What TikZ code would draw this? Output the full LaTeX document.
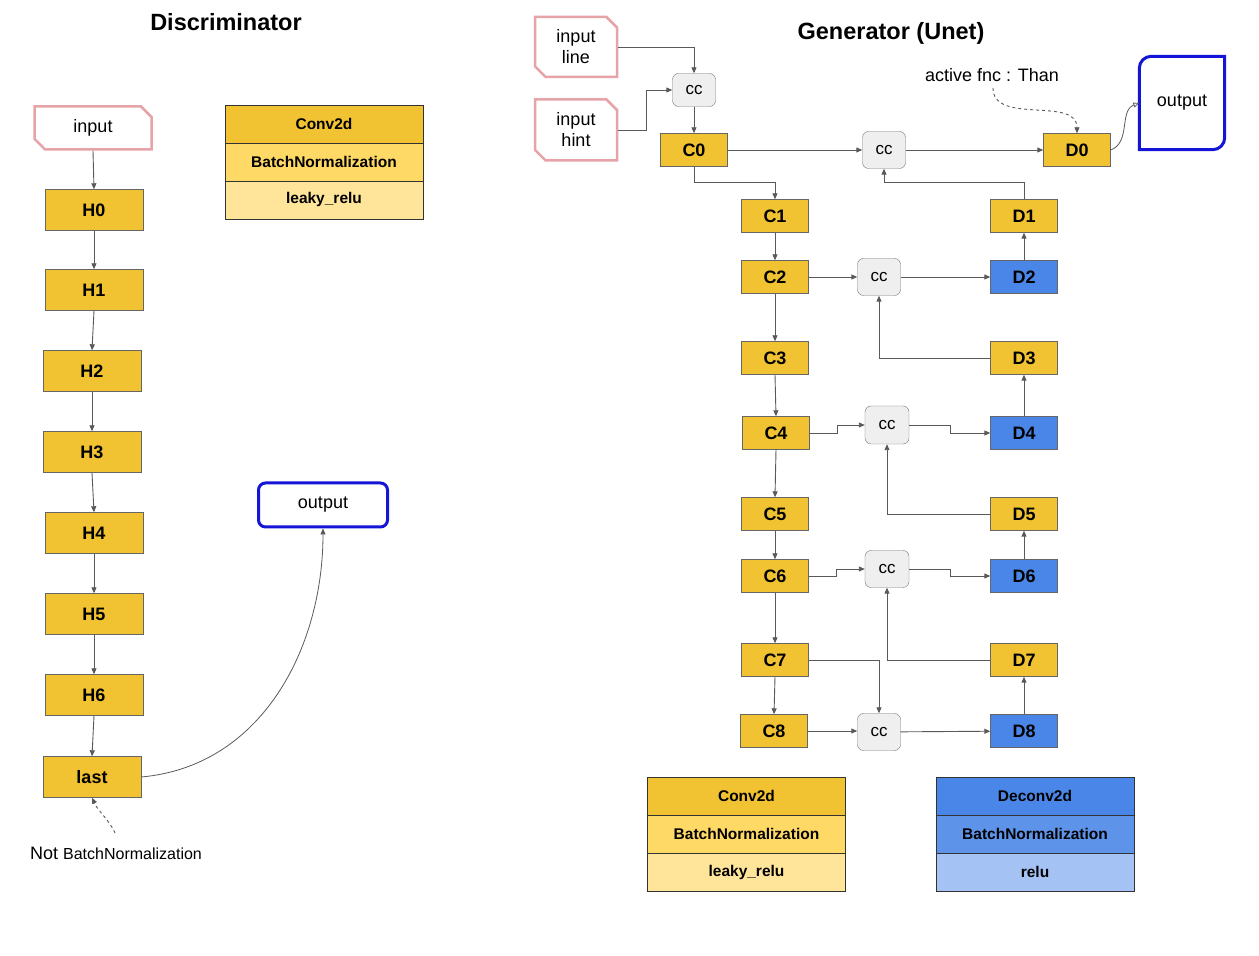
\documentclass[tikz,border=0pt]{standalone}
\usepackage{fontspec}
\setmainfont{Liberation Sans}
\usetikzlibrary{arrows.meta,shapes.misc}
\definecolor{ylw}{HTML}{F1C232}
\definecolor{ylwb}{HTML}{FFD966}
\definecolor{ylwc}{HTML}{FFE599}
\definecolor{blu}{HTML}{4A86E8}
\definecolor{blub}{HTML}{5E93EA}
\definecolor{bluc}{HTML}{A4C2F4}
\definecolor{pnk}{HTML}{E6A3A8}
\definecolor{outblu}{HTML}{1515D8}
\definecolor{ccgray}{HTML}{EFEFEF}
\definecolor{ln}{HTML}{595959}
\begin{document}
\begin{tikzpicture}[x=1pt,y=1pt]
\tikzstyle{every node}+=[inner sep=0pt]
\tikzstyle{conv}=[draw=black!60, fill=ylw, minimum width=67pt, minimum height=33pt, font=\fontsize{18}{20}\selectfont\bfseries]
\tikzstyle{deconv}=[conv, fill=blu]
\tikzstyle{layer}=[conv, minimum width=98pt, minimum height=41pt]
\tikzstyle{cc}=[draw=black!55, fill=ccgray, rounded corners=6pt, minimum width=43pt, minimum height=37pt, font=\fontsize{17}{20}\selectfont]
\tikzstyle{inbox}=[draw=pnk, line width=2.5pt, chamfered rectangle, chamfered rectangle corners={north east,south west}, chamfered rectangle xsep=7pt, minimum width=80pt, font=\fontsize{18}{21}\selectfont, align=center]
\tikzstyle{outbox}=[draw=outblu, line width=3pt]
\tikzstyle{cell}=[draw=black!80, minimum width=198pt, minimum height=38pt, font=\fontsize{15.5}{18}\selectfont\bfseries]
\tikzstyle{link}=[draw=ln, line width=0.9pt, -{Triangle[length=6pt,width=5pt]}]
\tikzstyle{note}=[link, dashed]
\tikzstyle{title}=[font=\fontsize{23.5}{26}\selectfont\bfseries]
\useasboundingbox (0,0) rectangle (1259,956);
\node[title] (dtitle) at (226,934) {Discriminator};
\node[inbox, minimum width=117pt, minimum height=43pt] (inp) at (93,828) {input};
\node[layer] (h0) at (94,746) {H0};
\node[layer] (h1) at (94,666) {H1};
\node[layer] (h2) at (92,585) {H2};
\node[layer] (h3) at (92,504) {H3};
\node[layer] (h4) at (94,423) {H4};
\node[layer] (h5) at (94,342) {H5};
\node[layer] (h6) at (94,261) {H6};
\node[layer] (last) at (92,179) {last};
\node[cell, fill=ylw] (dleg1) at (324,832) {Conv2d};
\node[cell, fill=ylwb] (dleg2) at (324,794) {BatchNormalization};
\node[cell, fill=ylwc] (dleg3) at (324,756) {leaky\_relu};
\node[outbox, rounded corners=7pt, minimum width=129pt, minimum height=44pt, font=\fontsize{18}{20}\selectfont] (dout) at (323,451) {output};
\node[font=\fontsize{18}{20}\selectfont] (notlbl) at (116,103) {Not {\fontsize{16}{20}\selectfont BatchNormalization}};
\coordinate (nbstart) at (115,123);
\draw[link] (inp.south) -- (h0.north);
\draw[link] (h0.south) -- (h1.north);
\draw[link] (h1.south) -- (h2.north);
\draw[link] (h2.south) -- (h3.north);
\draw[link] (h3.south) -- (h4.north);
\draw[link] (h4.south) -- (h5.north);
\draw[link] (h5.south) -- (h6.north);
\draw[link] (h6.south) -- (last.north);
\draw[link, line width=0.8pt] (last.east) to[out=5,in=-90] (dout.south);
\draw[note] (nbstart) to[out=115,in=-65] (last.south);
\node[title] (gtitle) at (891,923) {Generator (Unet)};
\node[inbox, minimum width=82pt, minimum height=60pt] (line) at (576,909) {input\\line};
\node[inbox, minimum width=82pt, minimum height=61pt] (hint) at (576,826) {input\\hint};
\node[cc, minimum height=33pt] (cct) at (694,866) {cc};
\node[conv] (c0) at (694,806) {C0};
\node[cc] (cc0) at (884,806) {cc};
\node[conv] (d0) at (1077,806) {D0};
\node[conv] (c1) at (775,740) {C1};
\node[conv] (d1) at (1024,740) {D1};
\node[conv] (c2) at (775,679) {C2};
\node[cc] (cc2) at (879,679) {cc};
\node[deconv] (d2) at (1024,679) {D2};
\node[conv] (c3) at (775,598) {C3};
\node[conv] (d3) at (1024,598) {D3};
\node[conv] (c4) at (776,523) {C4};
\node[cc, minimum width=44pt, minimum height=38pt] (cc4) at (887,531) {cc};
\node[deconv] (d4) at (1024,523) {D4};
\node[conv] (c5) at (775,442) {C5};
\node[conv] (d5) at (1024,442) {D5};
\node[conv] (c6) at (775,380) {C6};
\node[cc, minimum width=44pt] (cc6) at (887,387) {cc};
\node[deconv] (d6) at (1024,380) {D6};
\node[conv] (c7) at (775,296) {C7};
\node[conv] (d7) at (1024,296) {D7};
\node[conv] (c8) at (774,225) {C8};
\node[cc] (cc8) at (879,224) {cc};
\node[deconv] (d8) at (1024,225) {D8};
\node[minimum width=85pt, minimum height=93pt, font=\fontsize{18}{20}\selectfont] (gout) at (1182,853) {output};
\draw[outbox] (gout.north east) -- ([xshift=12pt]gout.north west) arc[start angle=90,end angle=180,radius=12pt] -- (gout.south west) -- ([xshift=-12pt]gout.south east) arc[start angle=270,end angle=360,radius=12pt] -- cycle;
\node[font=\fontsize{18}{20}\selectfont] (afnc) at (992,881) {active fnc : Than};
\coordinate (afstart) at (993,868);
\node[cell, fill=ylw] (gleg1) at (746.5,160) {Conv2d};
\node[cell, fill=ylwb] (gleg2) at (746.5,122) {BatchNormalization};
\node[cell, fill=ylwc] (gleg3) at (746.5,84) {leaky\_relu};
\node[cell, fill=blu] (bleg1) at (1035,160) {Deconv2d};
\node[cell, fill=blub] (bleg2) at (1035,122) {BatchNormalization};
\node[cell, fill=bluc] (bleg3) at (1035,84) {relu};
\draw[link] (line.east) -| (cct.north);
\draw[link] (hint.east) -- ++(28,0) |- (cct.west);
\draw[link] (cct) -- (c0);
\draw[link] (c0) -- (cc0);
\draw[link] (cc0) -- (d0);
\draw[link] (c0.south) -- ++(0,-16) -| (c1.north);
\draw[link] (d1.north) -- ++(0,17) -| (cc0.south);
\draw[link] (c1) -- (c2);
\draw[link] (c2) -- (cc2);
\draw[link] (cc2) -- (d2);
\draw[link] (d2) -- (d1);
\draw[link] (c2) -- (c3);
\draw[link] (d3.west) -| (cc2.south);
\draw[link] (d4) -- (d3);
\draw[link] (c3.south) -- (c4.north);
\draw[link] (c4.east) -- ++(28,0) |- (cc4.west);
\draw[link] (cc4.east) -- ++(41,0) |- (d4.west);
\draw[link] (c4.south) -- (c5.north);
\draw[link] (d5.west) -| (cc4.south);
\draw[link] (d6) -- (d5);
\draw[link] (c5) -- (c6);
\draw[link] (c6.east) -- ++(28,0) |- (cc6.west);
\draw[link] (cc6.east) -- ++(41,0) |- (d6.west);
\draw[link] (c6) -- (c7);
\draw[link] (d7.west) -| (cc6.south);
\draw[link] (c7.south) -- (c8.north);
\draw[link] (c7.east) -| (cc8.north);
\draw[link] (c8.east) -- (cc8.west |- c8.east);
\draw[link] (cc8) -- (d8);
\draw[link] (d8) -- (d7);
\draw[draw=ln, line width=0.8pt, -{Triangle[open,length=6pt,width=5pt]}] (d0.east) to[out=20,in=200] (gout.west);
\draw[note] (afstart) to[out=-90,in=90] (d0.north);
\end{tikzpicture}
\end{document}
